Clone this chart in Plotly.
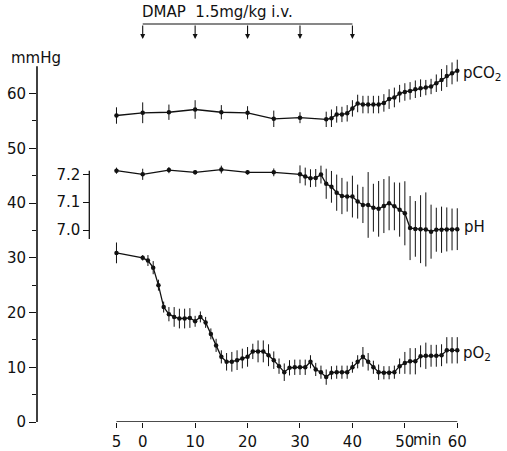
import plotly.graph_objects as go

# ---------------- data ----------------
pco2_time = [-5, 0, 5, 10, 15, 20, 25, 30, 35, 36, 37, 38, 39, 40, 41, 42, 43, 44, 45, 46,
             47, 48, 49, 50, 51, 52, 53, 54, 55, 56, 57, 58, 59, 60]
pco2_mean = [56.0, 56.5, 56.6, 57.1, 56.6, 56.5, 55.4, 55.6, 55.3, 55.5, 56.2, 56.2, 56.4, 57.3,
             58.2, 58.0, 58.0, 58.0, 58.0, 58.3, 59.0, 59.3, 60.0, 60.3, 60.5, 60.8, 61.0, 61.1,
             61.3, 61.9, 62.5, 63.2, 63.7, 64.2]
pco2_err = [1.5, 1.9, 1.4, 1.7, 1.3, 1.2, 1.5, 1.0, 1.4, 1.6, 1.5, 1.4, 1.5, 1.5, 1.6, 1.6, 1.6,
            1.6, 1.6, 1.6, 1.8, 1.8, 1.6, 1.6, 1.6, 1.6, 1.6, 1.4, 1.4, 1.6, 2.0, 2.0, 2.0, 2.0]

ph_time = [-5, 0, 5, 10, 15, 20, 25, 30, 31, 32, 33, 34, 35, 36, 37, 38, 39, 40, 41, 42, 43,
           44, 45, 46, 47, 48, 49, 50, 51, 52, 53, 54, 55, 56, 57, 58, 59, 60]
ph_mean = [7.213, 7.200, 7.215, 7.207, 7.217, 7.207, 7.207, 7.200, 7.192, 7.186, 7.187, 7.199,
           7.166, 7.155, 7.134, 7.122, 7.120, 7.120, 7.102, 7.090, 7.090, 7.080, 7.076, 7.086,
           7.096, 7.085, 7.073, 7.060, 7.007, 7.004, 7.003, 7.002, 6.994, 7.001, 7.001, 7.002,
           7.002, 7.003]
ph_err = [0.011, 0.02, 0.011, 0.008, 0.014, 0.008, 0.014, 0.032, 0.032, 0.032, 0.032, 0.032,
          0.054, 0.057, 0.065, 0.065, 0.054, 0.075, 0.061, 0.065, 0.118, 0.086, 0.1, 0.097,
          0.097, 0.086, 0.097, 0.115, 0.115, 0.1, 0.122, 0.133, 0.097, 0.079, 0.083, 0.079,
          0.075, 0.075]

po2_time = [-5, 0, 1, 2, 3, 4, 5, 6, 7, 8, 9, 10, 11, 12, 13, 14, 15, 16, 17, 18, 19, 20, 21,
            22, 23, 24, 25, 26, 27, 28, 29, 30, 31, 32, 33, 34, 35, 36, 37, 38, 39, 40, 41, 42,
            43, 44, 45, 46, 47, 48, 49, 50, 51, 52, 53, 54, 55, 56, 57, 58, 59, 60]
po2_mean = [30.9, 30.0, 29.5, 28.2, 25.0, 21.0, 19.7, 19.2, 18.9, 18.9, 19.0, 18.4, 19.2, 18.2,
            16.1, 14.0, 11.9, 11.0, 11.0, 11.3, 11.6, 11.9, 12.9, 12.9, 12.9, 12.2, 11.3, 10.2,
            9.1, 9.9, 10.0, 10.0, 10.0, 11.0, 9.6, 9.1, 8.2, 9.0, 9.1, 9.1, 9.1, 10.0, 11.0, 11.9,
            11.0, 10.0, 9.1, 9.0, 9.0, 9.1, 10.2, 10.8, 11.1, 11.1, 12.0, 12.1, 12.1, 12.1, 12.2,
            13.1, 13.1, 13.1]
po2_err = [1.9, 0.5, 1.0, 1.2, 1.0, 1.0, 1.3, 1.8, 1.8, 1.8, 1.8, 1.0, 1.0, 1.0, 1.0, 1.2, 1.2,
           1.6, 1.8, 1.8, 1.8, 1.8, 1.4, 2.0, 2.0, 2.0, 1.6, 1.4, 1.6, 1.4, 1.4, 1.4, 1.4, 1.2,
           1.2, 1.2, 1.4, 1.2, 1.2, 1.2, 1.2, 1.0, 1.2, 1.8, 1.6, 1.2, 1.4, 1.2, 1.2, 1.2, 1.4,
           2.0, 2.4, 2.4, 2.0, 2.4, 2.0, 2.0, 2.0, 2.4, 2.4, 2.4]

dose_times = [0, 10, 20, 30, 40]
x_tickvals = [-5, 0, 10, 20, 30, 40, 50, 60]
x_ticktext = ["5", "0", "10", "20", "30", "40", "50", "60"]
y_tickvals = [0, 10, 20, 30, 40, 50, 60]
y_minor = [5, 15, 25, 35, 45, 55]
ph_tickvals = [7.0, 7.1, 7.2]
ph_ticktext = ["7.0", "7.1", "7.2"]

# ---------------- layout geometry ----------------
W, H = 507, 451
L, R, T, B = 37, 37, 5, 29
plot_w = W - L - R
plot_h = H - T - B
px_per_min = 5.243
px_per_mmhg = 5.473
x0_px = 142.7 - L          # pixel offset of t=0 inside plot area
x_range = [-x0_px / px_per_min, (plot_w - x0_px) / px_per_min]
y_range = [0, plot_h / px_per_mmhg]
# pH axis: 7.0 sits at image row 230, 0.1 pH = 27.85 px
ph_px_per_unit = 278.5
ph_bottom = 7.0 - ((H - B) - 230) / ph_px_per_unit
ph_top = 7.0 + (230 - T) / ph_px_per_unit
ph_axis_px = 89.3


def px2paper_x(px):
    return (px - L) / plot_w


def px2paper_y(py):
    return ((H - B) - py) / plot_h


FONT = "DejaVu Sans, Verdana, sans-serif"
BLACK = "#111111"
FS = 15

fig = go.Figure()

common_err = dict(type="data", color=BLACK, thickness=1, width=0)

fig.add_trace(go.Scatter(
    x=pco2_time, y=pco2_mean, mode="lines+markers",
    line=dict(color=BLACK, width=1.3), marker=dict(color=BLACK, size=4.5),
    error_y=dict(array=pco2_err, **common_err), cliponaxis=False, showlegend=False))

fig.add_trace(go.Scatter(
    x=po2_time, y=po2_mean, mode="lines+markers",
    line=dict(color=BLACK, width=1.3), marker=dict(color=BLACK, size=4.5),
    error_y=dict(array=po2_err, **common_err), cliponaxis=False, showlegend=False))

fig.add_trace(go.Scatter(
    x=ph_time, y=ph_mean, mode="lines+markers", yaxis="y2",
    line=dict(color=BLACK, width=1.3), marker=dict(color=BLACK, size=4.5),
    error_y=dict(array=ph_err, **common_err), cliponaxis=False, showlegend=False))

shapes = [
    # mmHg axis line
    dict(type="line", xref="paper", yref="y", x0=0, x1=0, y0=0, y1=65,
         line=dict(color=BLACK, width=1.6)),
    # time axis line
    dict(type="line", xref="x", yref="y", x0=x_tickvals[0], x1=x_tickvals[-1], y0=0, y1=0,
         line=dict(color=BLACK, width=1.4)),
    # pH axis line
    dict(type="line", xref="paper", yref="y2", x0=px2paper_x(ph_axis_px), x1=px2paper_x(ph_axis_px),
         y0=6.968, y1=7.213, line=dict(color=BLACK, width=1.3)),
    # DMAP bracket
    dict(type="line", xref="x", yref="y", x0=dose_times[0], x1=dose_times[-1], y0=72.72, y1=72.72,
         line=dict(color=BLACK, width=1.2)),
]

annotations = []
for t in dose_times:
    annotations.append(dict(x=t, y=70.0, ax=t, ay=72.72, xref="x", yref="y", axref="x", ayref="y",
                            text="", showarrow=True, arrowhead=2, arrowsize=0.9, arrowwidth=1.1,
                            arrowcolor=BLACK))

annotations += [
    dict(text="DMAP  1.5mg/kg i.v.", xref="paper", yref="paper", x=px2paper_x(140), y=px2paper_y(12),
         xanchor="left", yanchor="middle", showarrow=False, font=dict(size=FS, color=BLACK)),
    dict(text="mmHg", xref="paper", yref="paper", x=px2paper_x(9), y=px2paper_y(58),
         xanchor="left", yanchor="middle", showarrow=False, font=dict(size=FS, color=BLACK)),
    dict(text="pCO<sub>2</sub>", xref="paper", yref="paper", x=px2paper_x(461), y=px2paper_y(74),
         xanchor="left", yanchor="middle", showarrow=False, font=dict(size=FS, color=BLACK)),
    dict(text="pH", xref="paper", yref="paper", x=px2paper_x(462), y=px2paper_y(227),
         xanchor="left", yanchor="middle", showarrow=False, font=dict(size=FS, color=BLACK)),
    dict(text="pO<sub>2</sub>", xref="paper", yref="paper", x=px2paper_x(461), y=px2paper_y(353),
         xanchor="left", yanchor="middle", showarrow=False, font=dict(size=FS, color=BLACK)),
    dict(text="min", xref="paper", yref="paper", x=px2paper_x(411), y=px2paper_y(440),
         xanchor="left", yanchor="middle", showarrow=False, font=dict(size=FS, color=BLACK)),
]

fig.update_layout(
    width=W, height=H, autosize=False,
    margin=dict(l=L, r=R, t=T, b=B, pad=0, autoexpand=False),
    paper_bgcolor="white", plot_bgcolor="white",
    font=dict(family=FONT, size=FS, color=BLACK),
    showlegend=False,
    shapes=shapes, annotations=annotations,
    xaxis=dict(range=x_range, tickvals=x_tickvals, ticktext=x_ticktext, ticks="outside",
               ticklen=5, tickwidth=1.2, tickcolor=BLACK, showline=False, showgrid=False,
               zeroline=False, tickfont=dict(size=FS, color=BLACK), ticklabelstandoff=1,
               automargin=False),
    yaxis=dict(range=y_range, tickvals=y_tickvals, ticks="outside", ticklen=7, tickwidth=1.2,
               tickcolor=BLACK, showline=False, showgrid=False, zeroline=False,
               tickfont=dict(size=FS, color=BLACK), automargin=False,
               minor=dict(tickvals=y_minor, ticks="outside", ticklen=4, tickwidth=1.2,
                          tickcolor=BLACK, showgrid=False)),
    yaxis2=dict(range=[ph_bottom, ph_top], overlaying="y", anchor="free",
                position=px2paper_x(ph_axis_px), side="left", tickvals=ph_tickvals,
                ticktext=ph_ticktext, ticks="outside", ticklen=6, tickwidth=1.2, tickcolor=BLACK,
                showline=False, showgrid=False, zeroline=False, automargin=False,
                tickfont=dict(size=FS, color=BLACK)),
)

fig.write_html(
    "out.html",
    config={"displayModeBar": False},
    post_script="document.body.style.margin='0';document.body.style.padding='0';"
                "document.documentElement.style.overflow='hidden';",
)
